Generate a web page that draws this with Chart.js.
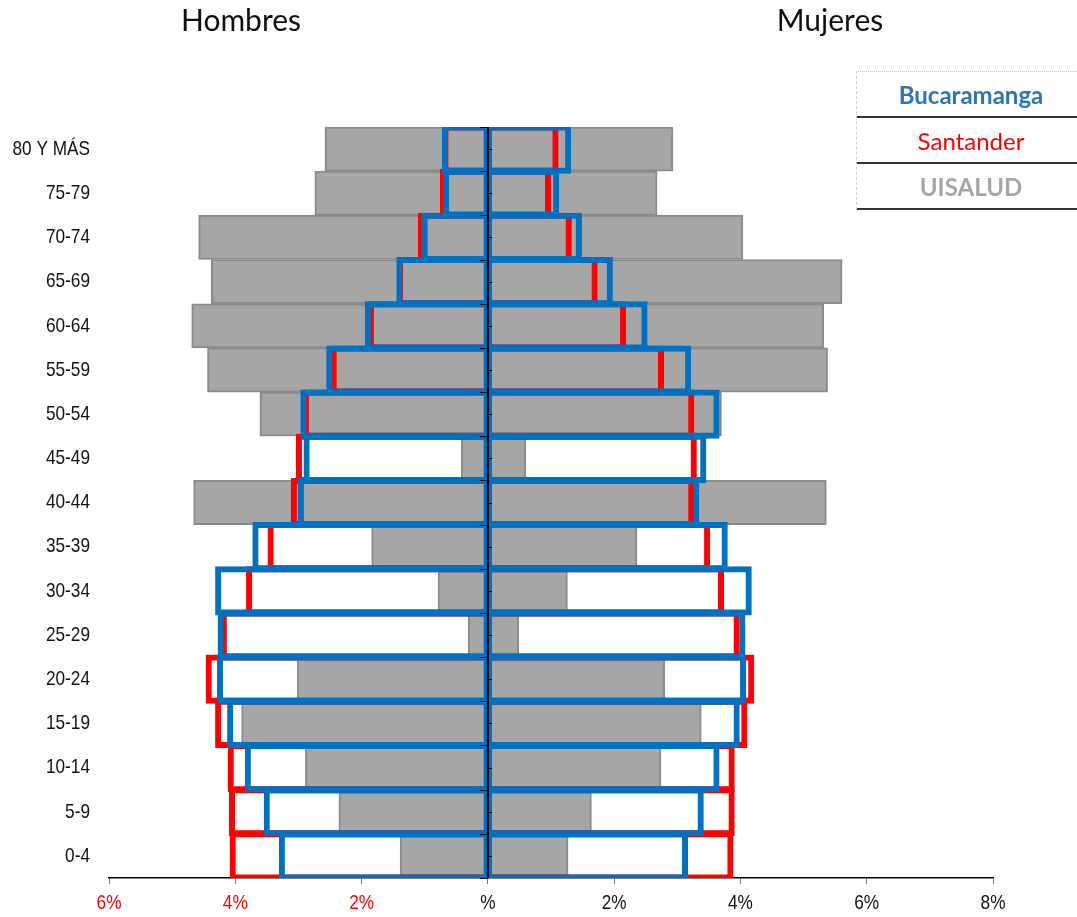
<!DOCTYPE html>
<html>
<head>
<meta charset="utf-8">
<script src="https://cdn.jsdelivr.net/npm/chart.js@4.4.0/dist/chart.umd.min.js"></script>
<style>
  body { margin: 0; background: #fff; }
  #wrap { position: relative; width: 1077px; height: 917px; overflow: hidden; }
  .title { position: absolute; top: 2px; width: 200px; text-align: center;
           font-family: Lato, "Open Sans", sans-serif; font-size: 30px; line-height: 35px; color: #111; }
  #legend { position: absolute; left: 856px; top: 71px; width: 228px;
            border-top: 1px dotted #c8c8c8; border-left: 1px dashed #d0d0d0;
            font-family: Lato, "Open Sans", sans-serif; font-size: 24px; }
  #legend div { height: 44px; line-height: 46px; text-align: center; border-bottom: 2px solid #333; }
</style>
</head>
<body>
<div id="wrap">
  <canvas id="chart" width="1077" height="917"></canvas>
  <div class="title" style="left:141px">Hombres</div>
  <div class="title" style="left:730px">Mujeres</div>
  <div id="legend">
    <div style="color:#2E75B6;font-weight:bold">Bucaramanga</div>
    <div style="color:#FF0000">Santander</div>
    <div style="color:#A6A6A6;font-weight:bold">UISALUD</div>
  </div>
</div>
<script>
// grupos de edad, de arriba hacia abajo
const edades = ['80 Y MÁS', '75-79', '70-74', '65-69', '60-64', '55-59', '50-54', '45-49', '40-44',
                '35-39', '30-34', '25-29', '20-24', '15-19', '10-14', '5-9', '0-4'];

// porcentajes (%) hombres
const bucaramangaHombres = [0.69, 0.67, 1.01, 1.41, 1.91, 2.52, 2.93, 2.88, 2.97, 3.69, 4.28, 4.24, 4.25, 4.09, 3.81, 3.51, 3.27];
const santanderHombres   = [0.68, 0.72, 1.07, 1.40, 1.86, 2.45, 2.89, 3.00, 3.08, 3.45, 3.79, 4.19, 4.43, 4.28, 4.08, 4.06, 4.05];
const uisaludHombres     = [2.58, 2.74, 4.58, 4.38, 4.69, 4.44, 3.61, 0.42, 4.66, 1.84, 0.79, 0.31, 3.02, 3.90, 2.89, 2.36, 1.39];

// porcentajes (%) mujeres
const bucaramangaMujeres = [1.28, 1.09, 1.45, 1.94, 2.49, 3.18, 3.63, 3.42, 3.31, 3.76, 4.14, 4.04, 4.05, 3.95, 3.63, 3.38, 3.13];
const santanderMujeres   = [1.08, 0.96, 1.29, 1.70, 2.15, 2.75, 3.23, 3.27, 3.23, 3.48, 3.70, 3.95, 4.18, 4.07, 3.87, 3.87, 3.85];
const uisaludMujeres     = [2.93, 2.68, 4.04, 5.61, 5.32, 5.38, 3.70, 0.60, 5.36, 2.36, 1.26, 0.49, 2.80, 3.38, 2.74, 1.64, 1.27];

// eje x
const xMin = -6, xMax = 8, xStep = 2;

const AZUL = '#0070C0';
const ROJO = '#FF0000';
const neg = arr => arr.map(v => -v);

// contorno centrado sobre el borde de la barra, como en Excel
// (Chart.js: grosor visible = borderWidth + 2 * inflateAmount)
function outline(label, data, color) {
    return {
        label, data,
        backgroundColor: 'rgba(0,0,0,0)',
        borderColor: color,
        borderWidth: 1,
        inflateAmount: 2.5,
        borderSkipped: false
    };
}
function gris(label, data) {
    return {
        label, data,
        backgroundColor: '#A6A6A6',
        borderColor: '#8A8A8A',
        borderWidth: 2,
        borderSkipped: false
    };
}

// no hay fuente estrecha instalada: se comprime Liberation Sans a lo ancho
const FUENTE = '"Liberation Sans", Arial, sans-serif';
const ESTRECHO = 0.82;

function textoEstrecho(ctx, txt, x, y, size, color, align) {
    ctx.save();
    ctx.font = size + 'px ' + FUENTE;
    ctx.fillStyle = color;
    ctx.textAlign = align;
    ctx.textBaseline = 'middle';
    ctx.scale(ESTRECHO, 1);
    ctx.fillText(txt, x / ESTRECHO, y);
    ctx.restore();
}

// linea del cero con sus marcas y etiquetas de los ejes
const ejeCero = {
    id: 'ejeCero',
    afterDatasetsDraw(chart) {
        const { ctx, chartArea, scales } = chart;
        const x0 = scales.x.getPixelForValue(0);
        const band = (chartArea.bottom - chartArea.top) / edades.length;
        ctx.save();
        ctx.strokeStyle = '#000';
        ctx.lineWidth = 2;
        ctx.beginPath();
        ctx.moveTo(x0, chartArea.top);
        ctx.lineTo(x0, chartArea.bottom);
        ctx.stroke();
        ctx.lineWidth = 1;
        ctx.beginPath();
        for (let i = 0; i <= edades.length; i++) {
            const y = Math.round(chartArea.top + i * band) + 0.5;
            ctx.moveTo(x0 - 8, y); ctx.lineTo(x0, y);
        }
        for (let i = 0; i < edades.length; i++) {
            const y = Math.round(chartArea.top + (i + 0.5) * band) + 0.5;
            ctx.moveTo(x0, y); ctx.lineTo(x0 + 4, y);
        }
        ctx.stroke();
        ctx.restore();

        edades.forEach((lab, i) => {
            textoEstrecho(ctx, lab, chartArea.left - 19, scales.y.getPixelForValue(i), 21, '#111', 'right');
        });
        scales.x.ticks.forEach(t => {
            const txt = t.value === 0 ? '%' : Math.abs(t.value) + '%';
            textoEstrecho(ctx, txt, scales.x.getPixelForValue(t.value), chartArea.bottom + 25, 21,
                          t.value < 0 ? ROJO : '#111', 'center');
        });
    }
};

new Chart(document.getElementById('chart'), {
    type: 'bar',
    data: {
        labels: edades,
        datasets: [
            outline('Bucaramanga', neg(bucaramangaHombres), AZUL),
            outline('Bucaramanga', bucaramangaMujeres, AZUL),
            outline('Santander', neg(santanderHombres), ROJO),
            outline('Santander', santanderMujeres, ROJO),
            gris('UISALUD', neg(uisaludHombres)),
            gris('UISALUD', uisaludMujeres)
        ]
    },
    options: {
        indexAxis: 'y',
        responsive: false,
        animation: false,
        devicePixelRatio: 1,
        grouped: false,
        barPercentage: 1,
        categoryPercentage: 1,
        layout: { padding: { top: 127, right: 84, left: 0, bottom: 0 } },
        plugins: { legend: { display: false }, tooltip: { enabled: false } },
        scales: {
            x: {
                min: xMin, max: xMax,
                afterFit: s => { s.height = 39; },
                ticks: { stepSize: xStep, display: false },
                grid: { drawOnChartArea: false, drawTicks: true, tickLength: 6, color: '#777' },
                border: { color: '#000', width: 1.5 }
            },
            y: {
                afterFit: s => { s.width = 109; },
                ticks: { display: false },
                grid: { display: false, drawTicks: false },
                border: { display: false }
            }
        }
    },
    plugins: [ejeCero]
});
</script>
</body>
</html>
